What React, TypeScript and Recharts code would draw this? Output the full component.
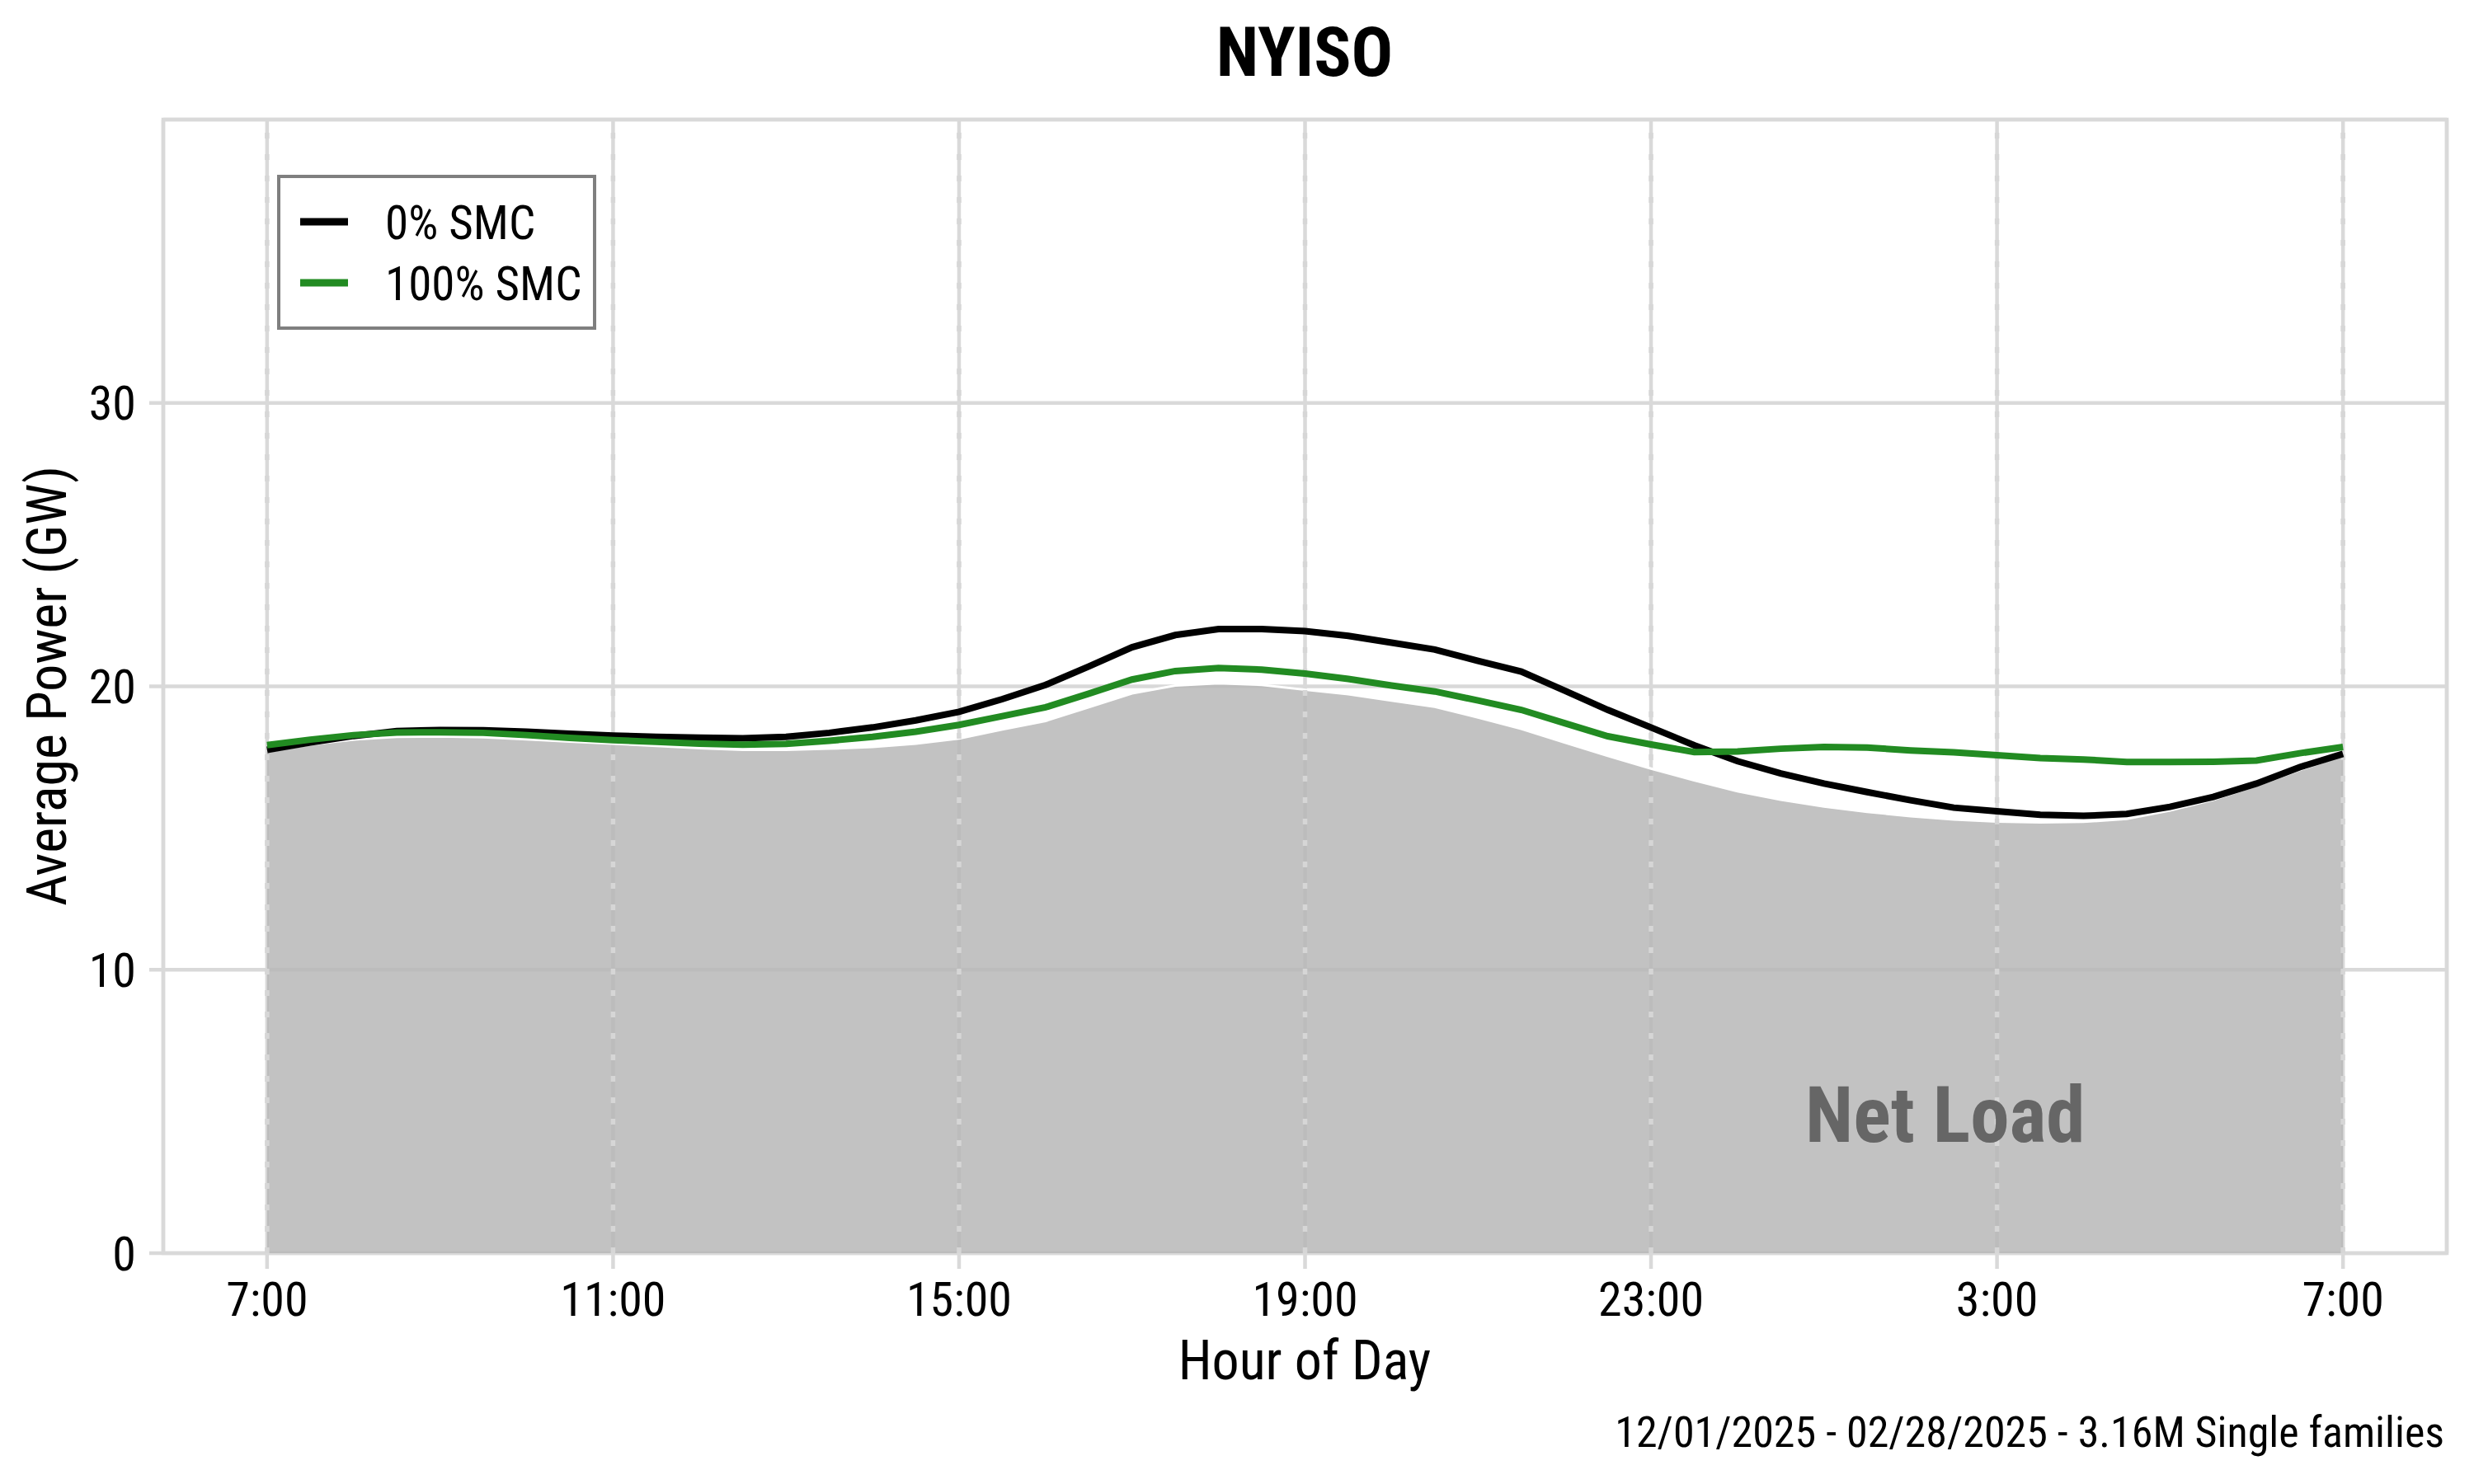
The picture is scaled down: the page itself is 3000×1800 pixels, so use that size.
import React from "react";
import {
  ComposedChart,
  Area,
  Line,
  XAxis,
  YAxis,
  CartesianGrid,
  ReferenceLine,
  ReferenceArea,
  ReferenceDot,
  Legend,
} from "recharts";

// hours after 7:00
const hours = [
  0, 0.5, 1, 1.5, 2, 2.5, 3, 3.5, 4, 4.5, 5, 5.5, 6, 6.5, 7, 7.5, 8, 8.5, 9, 9.5,
  10, 10.5, 11, 11.5, 12, 12.5, 13, 13.5, 14, 14.5, 15, 15.5, 16, 16.5, 17, 17.5,
  18, 18.5, 19, 19.5, 20, 20.5, 21, 21.5, 22, 22.5, 23, 23.5, 24,
];

const netLoad = [
  17.7, 17.95, 18.12, 18.22, 18.23, 18.2, 18.13, 18.05, 17.98, 17.9, 17.82, 17.76,
  17.76, 17.8, 17.86, 17.98, 18.16, 18.48, 18.78, 19.26, 19.75, 20.03, 20.11, 20.05,
  19.88, 19.72, 19.5, 19.28, 18.9, 18.5, 18.02, 17.55, 17.1, 16.68, 16.3, 16.0,
  15.76, 15.57, 15.42, 15.3, 15.23, 15.2, 15.22, 15.32, 15.62, 16.0, 16.5, 17.05,
  17.57,
];

const smc0 = [
  17.76, 18.02, 18.25, 18.42, 18.46, 18.45, 18.4, 18.33, 18.26, 18.22, 18.19, 18.17,
  18.22, 18.36, 18.55, 18.8, 19.1, 19.55, 20.05, 20.7, 21.38, 21.81, 22.02, 22.02,
  21.95, 21.78, 21.54, 21.3, 20.9, 20.52, 19.85, 19.17, 18.55, 17.92, 17.36, 16.93,
  16.57, 16.27, 15.98, 15.72, 15.59, 15.47, 15.43, 15.5, 15.75, 16.1, 16.57, 17.15,
  17.62,
];

const smc100 = [
  17.93, 18.12, 18.28, 18.37, 18.38, 18.36, 18.28, 18.18, 18.1, 18.04, 17.98, 17.94,
  17.97, 18.08, 18.22, 18.4, 18.64, 18.95, 19.26, 19.74, 20.24, 20.54, 20.65, 20.59,
  20.45, 20.26, 20.03, 19.82, 19.5, 19.17, 18.7, 18.24, 17.95, 17.68, 17.7, 17.8,
  17.86, 17.84, 17.74, 17.67, 17.57, 17.47, 17.42, 17.33, 17.33, 17.34, 17.38, 17.64,
  17.86,
];

const xTicks = [0, 4, 8, 12, 16, 20, 24];
const yTicks = [0, 10, 20, 30];

const seriesInfo = [
  { key: "smc0", name: "0% SMC", color: "#000000" },
  { key: "smc100", name: "100% SMC", color: "#228B22" },
];

const data = hours.map((h, i) => ({
  h,
  net: netLoad[i],
  smc0: smc0[i],
  smc100: smc100[i],
}));

const FONT = '"Roboto Condensed", "Liberation Sans Narrow", "Arial Narrow", "DejaVu Sans Condensed", Roboto, sans-serif';
const GRID = "#d9d9d9";

const hourLabel = (h: number) => `${(7 + h) % 24}:00`;

const LegendBox = () => (
  <div
    style={{
      width: 387,
      height: 188,
      boxSizing: "border-box",
      border: "4px solid #7f7f7f",
      background: "#fff",
      position: "relative",
    }}
  >
    <svg width={380} height={180} style={{ position: "absolute", left: 0, top: 0 }}>
      {seriesInfo.map((s, i) => (
        <g key={s.key}>
          <line x1={24} x2={82} y1={53 + i * 74} y2={53 + i * 74} stroke={s.color} strokeWidth={9} />
          <text x={127} y={74 + i * 74} fontSize={57} fontFamily={FONT} fill="#000">
            {s.name}
          </text>
        </g>
      ))}
    </svg>
  </div>
);

export default function App() {
  return (
    <div style={{ position: "absolute", left: 0, top: 0, width: 3000, height: 1800, background: "#fff" }}>
      <ComposedChart
        width={3000}
        height={1800}
        data={data}
        margin={{ top: 145, right: 33, bottom: 210, left: 0 }}
      >
        <CartesianGrid stroke={GRID} strokeWidth={4.5} />
        <XAxis
          dataKey="h"
          type="number"
          domain={[-1.2, 25.2]}
          ticks={xTicks}
          tickFormatter={hourLabel}
          axisLine={false}
          tickLine={{ stroke: GRID, strokeWidth: 4.5 }}
          tickSize={19}
          tickMargin={16}
          height={70}
          tick={{ fontSize: 58, fill: "#000", fontFamily: FONT }}
          allowDataOverflow
        />
        <YAxis
          type="number"
          domain={[0, 40]}
          ticks={yTicks}
          axisLine={false}
          tickLine={{ stroke: GRID, strokeWidth: 4.5 }}
          tickSize={17}
          tickMargin={16}
          width={198}
          tick={{ fontSize: 58, fill: "#000", fontFamily: FONT }}
          allowDataOverflow
        />
        <ReferenceArea
          x1={-1.2}
          x2={25.2}
          y1={0}
          y2={40}
          fill="none"
          stroke={GRID}
          strokeWidth={4.5}
          ifOverflow="visible"
        />
        <Area
          dataKey="net"
          type="linear"
          fill="#b6b6b6"
          fillOpacity={0.84}
          stroke="#ffffff"
          strokeWidth={3}
          isAnimationActive={false}
          dot={false}
          activeDot={false}
        />
        <ReferenceDot
          x={19.4}
          y={4.9}
          r={0}
          fill="none"
          stroke="none"
          label={{
            value: "Net Load",
            position: "center",
            fill: "#666666",
            fontSize: 95,
            fontWeight: 700,
            fontFamily: FONT,
          }}
        />
        {xTicks.map((t) => (
          <ReferenceLine
            key={t}
            x={t}
            stroke="#d6d6d6"
            strokeWidth={5.5}
            strokeDasharray="7 19"
          />
        ))}
        {seriesInfo.map((s) => (
          <Line
            key={s.key}
            dataKey={s.key}
            name={s.name}
            type="linear"
            stroke={s.color}
            strokeWidth={8}
            dot={false}
            activeDot={false}
            isAnimationActive={false}
          />
        ))}
        <Legend
          layout="horizontal"
          align="center"
          verticalAlign="middle"
          content={() => <LegendBox />}
          wrapperStyle={{ left: 336, top: 212, width: 387, height: 188 }}
        />
      </ComposedChart>
      <svg
        width={3000}
        height={1800}
        style={{ position: "absolute", left: 0, top: 0, pointerEvents: "none" }}
        fontFamily={FONT}
      >
        <text x={1582} y={92} textAnchor="middle" fontSize={84} fontWeight={700} fill="#000">
          NYISO
        </text>
        <text x={1582} y={1673} textAnchor="middle" fontSize={66} fill="#000">
          Hour of Day
        </text>
        <text transform="translate(80,832) rotate(-90)" textAnchor="middle" fontSize={66} fill="#000">
          Average Power (GW)
        </text>
        <text x={2964} y={1755} textAnchor="end" fontSize={52} fill="#000">
          12/01/2025 - 02/28/2025 - 3.16M Single families
        </text>
      </svg>
    </div>
  );
}
